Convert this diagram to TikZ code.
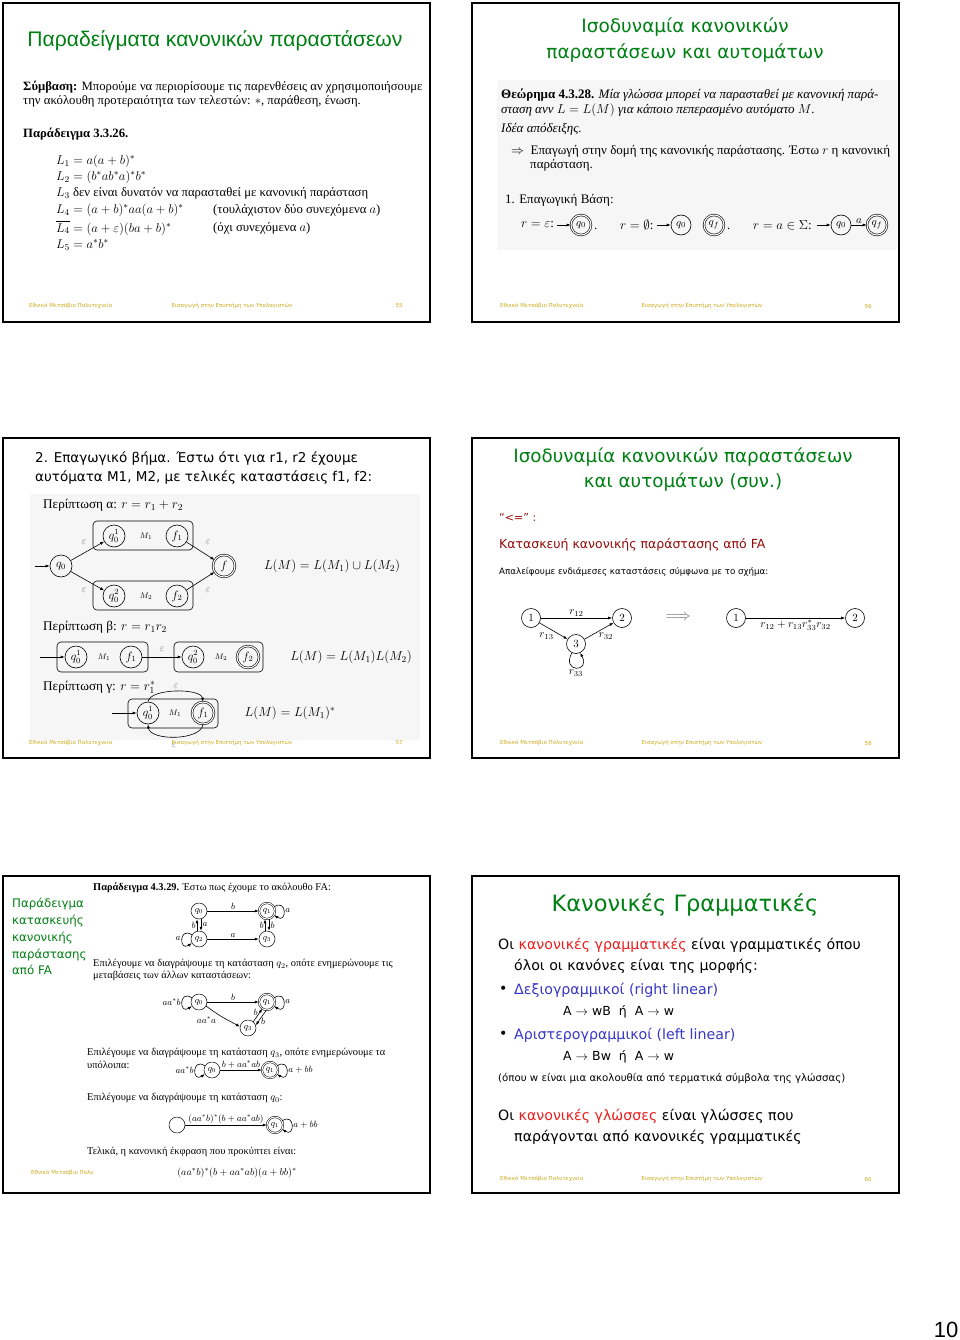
\RequirePackage{fix-cm}
\documentclass[tikz,border=0pt]{standalone}
\usepackage{amsmath}
\usepackage{amssymb}
\usepackage[no-math]{fontspec}
\setmainfont{Liberation Serif}
\newfontfamily\comicfont{DejaVu Sans}
\newfontfamily\arialfont{Liberation Sans}
\usetikzlibrary{positioning, arrows.meta, calc}

\definecolor{TitleGreen}{RGB}{0,128,20}
\definecolor{FootGold}{RGB}{205,170,30}
\definecolor{DarkRed}{RGB}{150,10,10}
\definecolor{HiRed}{RGB}{235,30,30}
\definecolor{HiBlue}{RGB}{55,55,200}
\definecolor{ShotGray}{RGB}{246,246,246}
\definecolor{EpsGray}{RGB}{110,110,110}

\newcommand{\pxsize}[1]{\fontsize{#1}{#1}\selectfont}

\begin{document}
\begin{tikzpicture}[
    x=1pt, y=-1pt,
    >={Latex[length=4pt, width=3pt]},
    slide/.style={draw=black, line width=2pt, fill=white},
    shot/.style={fill=ShotGray, draw=none},
    title/.style={font=\comicfont\fontsize{18.5}{26}\selectfont, text=TitleGreen, align=center},
    foot/.style={font=\comicfont\pxsize{5.5}, text=FootGold, inner sep=0pt},
    txt/.style={font=\pxsize{12.7}, anchor=west, inner sep=0pt},
    body/.style={font=\comicfont\pxsize{14.2}, anchor=west, inner sep=0pt},
    state/.style={circle, draw, line width=0.6pt, minimum size=19pt, inner sep=0pt, font=\pxsize{11}},
    accept/.style={state, double, double distance=1.1pt},
    bigstate/.style={state, minimum size=22pt, font=\pxsize{12}},
    bigaccept/.style={bigstate, double, double distance=1.1pt},
    smallstate/.style={state, minimum size=16pt, font=\pxsize{9}, line width=0.5pt},
    smallaccept/.style={smallstate, double, double distance=1pt},
    edge/.style={->, line width=0.6pt},
    lbl/.style={font=\pxsize{11}, inner sep=1.5pt},
    slbl/.style={font=\pxsize{9}, inner sep=1.2pt},
    eps/.style={font=\pxsize{10}, text=EpsGray, inner sep=0pt},
    mname/.style={font=\pxsize{8}, inner sep=0pt},
    mbox/.style={draw, rounded corners=4pt, line width=0.6pt},
]
\useasboundingbox (0,0) rectangle (960,1340);
\fill[white] (0,0) rectangle (960,1340);

% ---- Slide 55: examples of regular expressions ----
\draw[slide] (3,3) rectangle (430,322);
\node[title, font=\arialfont\pxsize{21.1}] (t55) at (215,41) {Παραδείγματα κανονικών παραστάσεων};
\node[txt] (conv1) at (23,87) {\textbf{Σύμβαση:} Μπορούμε να περιορίσουμε τις παρενθέσεις αν χρησιμοποιήσουμε};
\node[txt] (conv2) at (23,101) {την ακόλουθη προτεραιότητα των τελεστών: $*$, παράθεση, ένωση.};
\node[txt] (ex326) at (23,134) {\textbf{Παράδειγμα 3.3.26.}};
\node[txt] (eqa) at (56,161) {$L_1=a(a+b)^*$};
\node[txt] (eqb) at (56,177) {$L_2=(b^*ab^*a)^*b^*$};
\node[txt] (eqc) at (56,193) {$L_3$ δεν είναι δυνατόν να παρασταθεί με κανονική παράσταση};
\node[txt] (eqd) at (56,210) {$L_4=(a+b)^*aa(a+b)^*$};
\node[txt] (eqdn) at (213,210) {(τουλάχιστον δύο συνεχόμενα $a$)};
\node[txt] (eqe) at (56,228) {$\overline{L_4}=(a+\varepsilon)(ba+b)^*$};
\node[txt] (eqen) at (213,228) {(όχι συνεχόμενα $a$)};
\node[txt] (eqf) at (56,245) {$L_5=a^*b^*$};
\node[foot, anchor=west] (ft55a) at (29,306) {Εθνικό Μετσόβιο Πολυτεχνείο};
\node[foot] (ft55b) at (232,306) {Εισαγωγή στην Επιστήμη των Υπολογιστών};
\node[foot] (ft55c) at (399,306) {55};

% ---- Slide 56: equivalence, basis ----
\draw[slide] (472,3) rectangle (899,322);
\node[title] (t56) at (685,40) {Ισοδυναμία κανονικών\\παραστάσεων και αυτομάτων};
\fill[shot] (497,80) rectangle (897,250);
\node[txt, font=\pxsize{13}] (thm1) at (501,95) {\textbf{Θεώρημα 4.3.28.} \textit{Μία γλώσσα μπορεί να παρασταθεί με κανονική παρά-}};
\node[txt, font=\pxsize{13}] (thm2) at (501,110) {\textit{σταση ανν $L=L(M)$ για κάποιο πεπερασμένο αυτόματο $M$.}};
\node[txt, font=\pxsize{13}] (idea) at (501,129) {\textit{Ιδέα απόδειξης.}};
\node[txt, font=\pxsize{13}] (dir1) at (511,151) {$\Rightarrow$\ \ Επαγωγή στην δομή της κανονικής παράστασης. Έστω $r$ η κανονική};
\node[txt, font=\pxsize{13}] (dir2) at (530,165) {παράσταση.};
\node[txt, font=\pxsize{13}] (basis) at (505,200) {1. Επαγωγική Βάση:};
% base automata
\node[txt, font=\pxsize{13}] (beps) at (521,225) {$r=\varepsilon$:};
\coordinate (einit) at (557,225);
\node[accept, minimum size=20pt] (eq0) at (581,225) {$q_0$};
\node[txt] (edot) at (594,229) {.};
\node[txt, font=\pxsize{13}] (bempty) at (620,225) {$r=\emptyset$:};
\coordinate (ninit) at (657,225);
\node[state, minimum size=20pt] (nq0) at (681,225) {$q_0$};
\node[accept, minimum size=20pt] (nqf) at (714,225) {$q_f$};
\node[txt] (ndot) at (727,229) {.};
\node[txt, font=\pxsize{13}] (bsym) at (753,225) {$r=a\in\Sigma$:};
\coordinate (sinit) at (817,225);
\node[state, minimum size=20pt] (sq0) at (841,225) {$q_0$};
\node[accept, minimum size=20pt] (sqf) at (877,225) {$q_f$};
\draw[edge] (einit) -- (eq0);
\draw[edge] (ninit) -- (nq0);
\draw[edge] (sinit) -- (sq0);
\draw[edge] (sq0) -- node[lbl, above] {$a$} (sqf);
\node[foot, anchor=west] (ft56a) at (500,306) {Εθνικό Μετσόβιο Πολυτεχνείο};
\node[foot] (ft56b) at (702,306) {Εισαγωγή στην Επιστήμη των Υπολογιστών};
\node[foot] (ft56c) at (868,306) {56};

% ---- Slide 57: inductive step ----
\draw[slide] (3,438) rectangle (430,758);
\node[body, font=\comicfont\pxsize{13.5}] (st1) at (35,459) {2. Επαγωγικό βήμα. Έστω ότι για r1, r2 έχουμε};
\node[body, font=\comicfont\pxsize{13.5}] (st2) at (35,478) {αυτόματα M1, M2, με τελικές καταστάσεις f1, f2:};
\fill[shot] (30,494) rectangle (420,740);
% case a: union
\node[txt, font=\pxsize{13.2}] (casea) at (43,505) {Περίπτωση α: $r=r_1+r_2$};
\draw[mbox] (93,521) rectangle (193,550);
\draw[mbox] (93,581) rectangle (193,610);
\coordinate (ainit) at (35,566);
\node[bigstate] (aq0) at (61,566) {$q_0$};
\node[bigstate] (aq01) at (114,536) {$q_0^1$};
\node[mname] (am1) at (146,536) {$M_1$};
\node[bigstate] (af1) at (177,536) {$f_1$};
\node[bigstate] (aq02) at (114,596) {$q_0^2$};
\node[mname] (am2) at (146,596) {$M_2$};
\node[bigstate] (af2) at (177,596) {$f_2$};
\node[bigaccept] (af) at (224,566) {$f$};
\node[eps] (ae1) at (84,542) {$\varepsilon$};
\node[eps] (ae2) at (208,542) {$\varepsilon$};
\node[eps] (ae3) at (84,590) {$\varepsilon$};
\node[eps] (ae4) at (208,590) {$\varepsilon$};
\draw[edge] (ainit) -- (aq0);
\draw[edge] (aq0) -- (aq01);
\draw[edge] (aq0) -- (aq02);
\draw[edge] (af1) -- (af);
\draw[edge] (af2) -- (af);
\node[font=\pxsize{13}] (aform) at (332,566) {$L(M)=L(M_1)\cup L(M_2)$};
% case b: concatenation
\node[txt, font=\pxsize{13.2}] (caseb) at (43,627) {Περίπτωση β: $r=r_1r_2$};
\draw[mbox] (57,642) rectangle (148,672);
\draw[mbox] (174,642) rectangle (263,672);
\coordinate (binit) at (40,657);
\node[bigstate] (bq01) at (76,657) {$q_0^1$};
\node[mname] (bm1) at (104,657) {$M_1$};
\node[bigstate] (bf1) at (131,657) {$f_1$};
\node[bigstate] (bq02) at (193,657) {$q_0^2$};
\node[mname] (bm2) at (221,657) {$M_2$};
\node[bigaccept] (bf2) at (248,657) {$f_2$};
\draw[edge] (binit) -- (bq01);
\draw[edge] (bf1) -- node[eps, above=5pt] {$\varepsilon$} (bq02);
\node[font=\pxsize{13}] (bform) at (351,657) {$L(M)=L(M_1)L(M_2)$};
% case c: star
\node[txt, font=\pxsize{13.2}] (casec) at (43,687) {Περίπτωση γ: $r=r_1^*$};
\draw[mbox] (128,699) rectangle (218,728);
\coordinate (cinit) at (112,713);
\node[bigstate] (cq01) at (148,713) {$q_0^1$};
\node[mname] (cm1) at (175,713) {$M_1$};
\node[bigaccept] (cf1) at (203,713) {$f_1$};
\draw[edge] (cinit) -- (cq01);
\draw[edge] (cq01.north) .. controls (150,688) and (201,688) .. (cf1.north);
\draw[edge] (cf1.south) .. controls (201,741) and (150,741) .. (cq01.south);
\node[eps] (ce1) at (176,686) {$\varepsilon$};
\node[eps] (ce2) at (174,745) {$\varepsilon$};
\node[font=\pxsize{13}] (cform) at (290,713) {$L(M)=L(M_1)^*$};
\node[foot, anchor=west] (ft57a) at (29,743) {Εθνικό Μετσόβιο Πολυτεχνείο};
\node[foot] (ft57b) at (232,743) {Εισαγωγή στην Επιστήμη των Υπολογιστών};
\node[foot] (ft57c) at (399,743) {57};

% ---- Slide 58: FA to regular expression ----
\draw[slide] (472,438) rectangle (899,758);
\node[title, font=\comicfont\fontsize{18.3}{25}\selectfont] (t58) at (683,470) {Ισοδυναμία κανονικών παραστάσεων\\και αυτομάτων (συν.)};
\node[body, font=\comicfont\pxsize{11}, text=DarkRed] (dirb) at (499,517) {“<=” :};
\node[body, font=\comicfont\pxsize{12.5}, text=DarkRed] (constr) at (499,545) {Κατασκευή κανονικής παράστασης από FA};
\node[body, font=\comicfont\pxsize{8.7}] (elim) at (499,572) {Απαλείφουμε ενδιάμεσες καταστάσεις σύμφωνα με το σχήμα:};
\node[state] (n1) at (531,618) {$1$};
\node[state] (n2) at (622,618) {$2$};
\node[state] (n3) at (576,644) {$3$};
\draw[edge] (n1) -- node[lbl, above] {$r_{12}$} (n2);
\draw[edge] (n1) -- node[lbl, below left=0pt and -2pt] {$r_{13}$} (n3);
\draw[edge] (n3) -- node[lbl, below right=0pt and -2pt] {$r_{32}$} (n2);
\draw[edge] (n3.245) .. controls +(-11,20) and +(11,20) .. node[lbl, below] {$r_{33}$} (n3.295);
\node[font=\pxsize{16}, text=EpsGray] (impl) at (678,618) {$\Longrightarrow$};
\node[state] (m1) at (736,618) {$1$};
\node[state] (m2) at (855,618) {$2$};
\draw[edge] (m1) -- node[lbl, below] {$r_{12}+r_{13}r_{33}^*r_{32}$} (m2);
\node[foot, anchor=west] (ft58a) at (500,743) {Εθνικό Μετσόβιο Πολυτεχνείο};
\node[foot] (ft58b) at (702,743) {Εισαγωγή στην Επιστήμη των Υπολογιστών};
\node[foot] (ft58c) at (868,743) {58};

% ---- Slide 59: worked example ----
\draw[slide] (3,876) rectangle (430,1193);
\node[font=\comicfont\fontsize{11.8}{16.8}\selectfont, text=TitleGreen, align=left, anchor=north west, inner sep=0pt] (t59) at (12,898) {Παράδειγμα\\κατασκευής\\κανονικής\\παράστασης\\από FA};
\node[txt, font=\pxsize{10.4}] (ex329) at (93,888) {\textbf{Παράδειγμα 4.3.29.} Έστω πως έχουμε το ακόλουθο FA:};
% first automaton
\node[smallstate] (pq0) at (199,911) {$q_0$};
\node[smallaccept] (pq1) at (267,911) {$q_1$};
\node[smallstate] (pq2) at (199,939) {$q_2$};
\node[smallstate] (pq3) at (267,939) {$q_3$};
\draw[edge] (pq0) -- node[slbl, above] {$b$} (pq1);
\draw[edge] (pq2) -- node[slbl, above] {$a$} (pq3);
\draw[edge] ([xshift=-2pt]pq2.north) -- node[slbl, left] {$b$} ([xshift=-2pt]pq0.south);
\draw[edge] ([xshift=2pt]pq0.south) -- node[slbl, right] {$a$} ([xshift=2pt]pq2.north);
\draw[edge] ([xshift=-2pt]pq3.north) -- node[slbl, left] {$b$} ([xshift=-2pt]pq1.south);
\draw[edge] ([xshift=2pt]pq1.south) -- node[slbl, right] {$b$} ([xshift=2pt]pq3.north);
\draw[edge] (pq1.30) .. controls +(13,-9) and +(13,9) .. node[slbl, right] {$a$} (pq1.-30);
\draw[edge] (pq2.150) .. controls +(-13,-9) and +(-13,9) .. node[slbl, left] {$a$} (pq2.210);
\node[txt, font=\pxsize{10.4}] (drop2a) at (93,964) {Επιλέγουμε να διαγράψουμε τη κατάσταση $q_2$, οπότε ενημερώνουμε τις};
\node[txt, font=\pxsize{10.4}] (drop2b) at (93,976) {μεταβάσεις των άλλων καταστάσεων:};
% second automaton
\node[smallstate] (rq0) at (199,1002) {$q_0$};
\node[smallaccept] (rq1) at (267,1002) {$q_1$};
\node[smallstate] (rq3) at (248,1028) {$q_3$};
\draw[edge] (rq0) -- node[slbl, above] {$b$} (rq1);
\draw[edge] (rq0.-30) .. controls (220,1016) .. node[slbl, pos=0.45, below left=0pt and 2pt] {$aa^*a$} (rq3.170);
\draw[edge] (rq3.50) -- node[slbl, above left=-2pt] {$b$} (rq1.235);
\draw[edge] (rq1.265) -- node[slbl, below right=-2pt] {$b$} (rq3.20);
\draw[edge] (rq1.30) .. controls +(13,-9) and +(13,9) .. node[slbl, right] {$a$} (rq1.-30);
\draw[edge] (rq0.150) .. controls +(-13,-9) and +(-13,9) .. node[slbl, left] {$aa^*b$} (rq0.210);
\node[txt, font=\pxsize{10.4}] (drop3a) at (87,1053) {Επιλέγουμε να διαγράψουμε τη κατάσταση $q_3$, οπότε ενημερώνουμε τα};
\node[txt, font=\pxsize{10.4}] (drop3b) at (87,1065) {υπόλοιπα:};
% third automaton
\node[smallstate] (sq0b) at (212,1070) {$q_0$};
\node[smallaccept] (sq1b) at (270,1070) {$q_1$};
\draw[edge] (sq0b) -- node[slbl, above] {$b+aa^*ab$} (sq1b);
\draw[edge] (sq0b.150) .. controls +(-13,-9) and +(-13,9) .. node[slbl, left] {$aa^*b$} (sq0b.210);
\draw[edge] (sq1b.30) .. controls +(13,-9) and +(13,9) .. node[slbl, right] {$a+bb$} (sq1b.-30);
\node[txt, font=\pxsize{10.4}] (drop0) at (87,1098) {Επιλέγουμε να διαγράψουμε τη κατάσταση $q_0$:};
% fourth automaton
\node[smallstate] (uq0) at (177,1125) {};
\node[smallaccept] (uq1) at (275,1125) {$q_1$};
\draw[edge] (uq0) -- node[slbl, above] {$(aa^*b)^*(b+aa^*ab)$} (uq1);
\draw[edge] (uq1.30) .. controls +(13,-9) and +(13,9) .. node[slbl, right] {$a+bb$} (uq1.-30);
\node[txt, font=\pxsize{10.4}] (final) at (87,1152) {Τελικά, η κανονική έκφραση που προκύπτει είναι:};
\node[font=\pxsize{10}, inner sep=0pt] (result) at (237,1173) {$(aa^*b)^*(b+aa^*ab)(a+bb)^*$};
\node[foot, anchor=west] (ft59a) at (31,1173) {Εθνικό Μετσόβιο Πολυ};

% ---- Slide 60: regular grammars ----
\draw[slide] (472,876) rectangle (899,1193);
\node[title, font=\comicfont\pxsize{22.5}] (t60) at (685,905) {Κανονικές Γραμματικές};
\node[body] (g1) at (498,945) {Οι \textcolor{HiRed}{κανονικές γραμματικές} είναι γραμματικές όπου};
\node[body] (g2) at (514,966) {όλοι οι κανόνες είναι της μορφής:};
\node[body] (b1) at (499,990) {•};
\node[body, text=HiBlue] (rl) at (514,990) {Δεξιογραμμικοί (right linear)};
\node[body, font=\comicfont\pxsize{12.5}] (rlr) at (563,1012) {A $\rightarrow$ wB\ \ ή\ \ A $\rightarrow$ w};
\node[body] (b2) at (499,1035) {•};
\node[body, text=HiBlue] (ll) at (514,1035) {Αριστερογραμμικοί (left linear)};
\node[body, font=\comicfont\pxsize{12.5}] (llr) at (563,1057) {A $\rightarrow$ Bw\ \ ή\ \ A $\rightarrow$ w};
\node[body, font=\comicfont\pxsize{10.2}] (wnote) at (498,1078) {(όπου w είναι μια ακολουθία από τερματικά σύμβολα της γλώσσας)};
\node[body] (g3) at (498,1116) {Οι \textcolor{HiRed}{κανονικές γλώσσες} είναι γλώσσες που};
\node[body] (g4) at (514,1137) {παράγονται από κανονικές γραμματικές};
\node[foot, anchor=west] (ft60a) at (500,1179) {Εθνικό Μετσόβιο Πολυτεχνείο};
\node[foot] (ft60b) at (702,1179) {Εισαγωγή στην Επιστήμη των Υπολογιστών};
\node[foot] (ft60c) at (868,1179) {60};

% ---- page number ----
\node[font=\arialfont\pxsize{22}] (pageno) at (946,1330) {10};
\end{tikzpicture}
\end{document}
